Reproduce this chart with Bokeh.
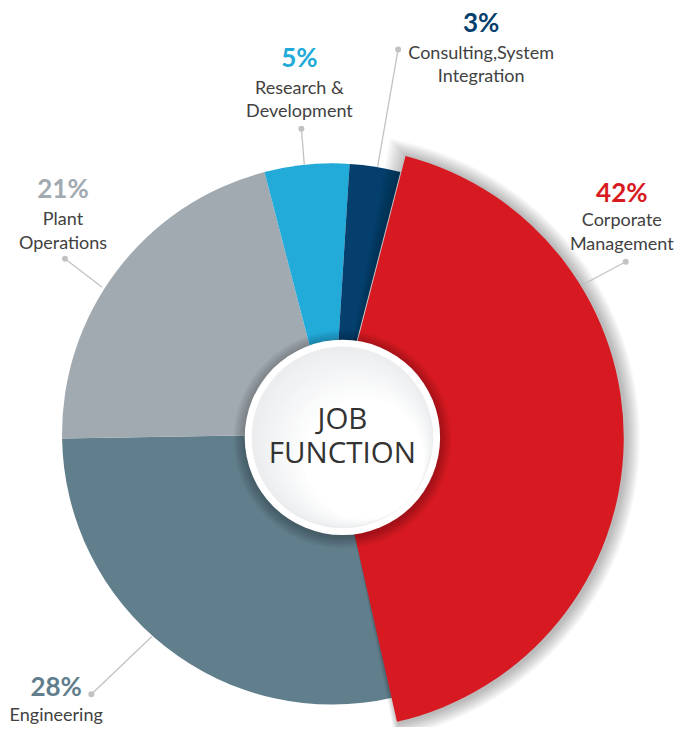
import numpy as np
from bokeh.plotting import figure
from bokeh.models import Range1d
from bokeh.core.properties import value
from bokeh.embed import file_html
from bokeh.resources import INLINE

# ---------------- data ----------------
categories = ["Corporate Management", "Engineering", "Plant Operations",
              "Research & Development", "Consulting,System Integration"]
percents = [42, 28, 21, 5, 3]
label_lines = [["Corporate", "Management"], ["Engineering"], ["Plant", "Operations"],
               ["Research &", "Development"], ["Consulting,System", "Integration"]]
center_title = ["JOB", "FUNCTION"]

# ---------------- style / layout ----------------
colors = ["#d71a21", "#617e8c", "#a2aab1", "#22aad9", "#053f6d"]
text_color = "#414141"
line_color = "#c2c2c2"
RW, RH = 693, 743            # layout coordinate space (y measured downward)
def Y(py):
    return RH - py

W, H = 677, 727
pie_c = (340, 443)
pie_r = 277
red_c = (340, 447)
red_r = 298
start_deg = 14.5             # clockwise from 12 o'clock
circ_c = (350, 446.5)

PCT_FS, LAB_FS, TITLE_FS = 26, 18, 29.5
def tshift(fs):              # baseline correction for rendered text
    return 0.4 * fs / (H / RH)

# label layout: (x, pct baseline, [line baselines]), leader dot, leader end
label_layout = [
    (636, 206, [231, 255], (640, 267), (597, 290)),
    (57, 711, [737], (93, 709), (155, 650)),
    (64, 202, [230, 254], (66, 264), (104, 293)),
    (306, 68, [96, 119], (308, 131), (311, 168)),
    (492, 33, [60, 83], (407, 50), (386, 170)),
]

p = figure(width=W, height=H, output_backend="svg", toolbar_location=None,
           x_range=Range1d(0, RW), y_range=Range1d(0, RH),
           x_axis_location=None, y_axis_location=None, min_border=0,
           background_fill_color="white", border_fill_color="white")
p.grid.visible = False
p.outline_line_color = None

total = float(sum(percents))
spans = [v / total * 360.0 for v in percents]
theta1 = [start_deg + sum(spans[:i]) for i in range(len(spans))]
theta2 = [t + s for t, s in zip(theta1, spans)]

def bk(theta):
    return np.radians(90.0 - theta)

# non-exploded slices
for i in range(1, len(percents)):
    p.wedge(x=pie_c[0], y=Y(pie_c[1]), radius=pie_r,
            start_angle=bk(theta2[i]), end_angle=bk(theta1[i]),
            fill_color=colors[i], line_color=None)

# shadow for red slice
for k in range(1, 10):
    p.wedge(x=red_c[0] + 2, y=Y(red_c[1] + 1), radius=red_r + k * 1.6,
            start_angle=bk(theta2[0] + k * 0.15), end_angle=bk(theta1[0] - k * 0.45),
            fill_color="black", fill_alpha=0.03, line_color=None)

# red slice (larger)
p.wedge(x=red_c[0], y=Y(red_c[1]), radius=red_r,
        start_angle=bk(theta2[0]), end_angle=bk(theta1[0]),
        fill_color=colors[0], line_color=None)

# center circle shadow
for k in range(1, 10):
    p.circle(x=circ_c[0], y=Y(circ_c[1] + 2), radius=100 + k * 1.3,
             fill_color="black", fill_alpha=0.028, line_color=None)
p.circle(x=circ_c[0], y=Y(circ_c[1]), radius=100,
         fill_color="white", line_color=None)
# soft gradient inside (light grey top-left -> white bottom-right)
n = 24
c0 = np.array([0xeb, 0xed, 0xef])
c1 = np.array([0xff, 0xff, 0xff])
for i in range(n):
    t = i / (n - 1)
    r = 93 * (1 - 0.55 * t)
    off = (93 - r) / np.sqrt(2)
    col = c0 + (c1 - c0) * min(1.0, t * 1.6)
    hexcol = "#%02x%02x%02x" % tuple(int(round(v)) for v in col)
    p.circle(x=circ_c[0] + off, y=Y(circ_c[1] + off), radius=r,
             fill_color=hexcol, line_color=None)

# center title
p.text(x=[circ_c[0]] * 2, y=[Y(438 - tshift(TITLE_FS)), Y(473 - tshift(TITLE_FS))],
       text=center_title,
       text_font=value("Open Sans"), text_font_size="%spx" % TITLE_FS, text_color="#333333",
       text_align="center", text_baseline="alphabetic")

# labels and leader lines
for i, cat in enumerate(categories):
    lx, pct_y, line_ys, dot, end = label_layout[i]
    p.segment(x0=dot[0], y0=Y(dot[1]), x1=end[0], y1=Y(end[1]),
              line_color=line_color, line_width=1.3)
    p.scatter(x=dot[0], y=Y(dot[1]), size=6, marker="circle",
              fill_color=line_color, line_color=None)
    p.text(x=[lx], y=[Y(pct_y - tshift(PCT_FS))], text=["%d%%" % percents[i]],
           text_font=value("Lato"), text_font_style="bold", text_font_size="%spx" % PCT_FS,
           text_color=colors[i], text_align="center", text_baseline="alphabetic")
    p.text(x=[lx] * len(line_ys), y=[Y(v - tshift(LAB_FS)) for v in line_ys],
           text=label_lines[i],
           text_font=value("Lato"), text_font_size="%spx" % LAB_FS,
           text_color=text_color, text_align="center", text_baseline="alphabetic")

open("out.html", "w").write(file_html(p, INLINE))
